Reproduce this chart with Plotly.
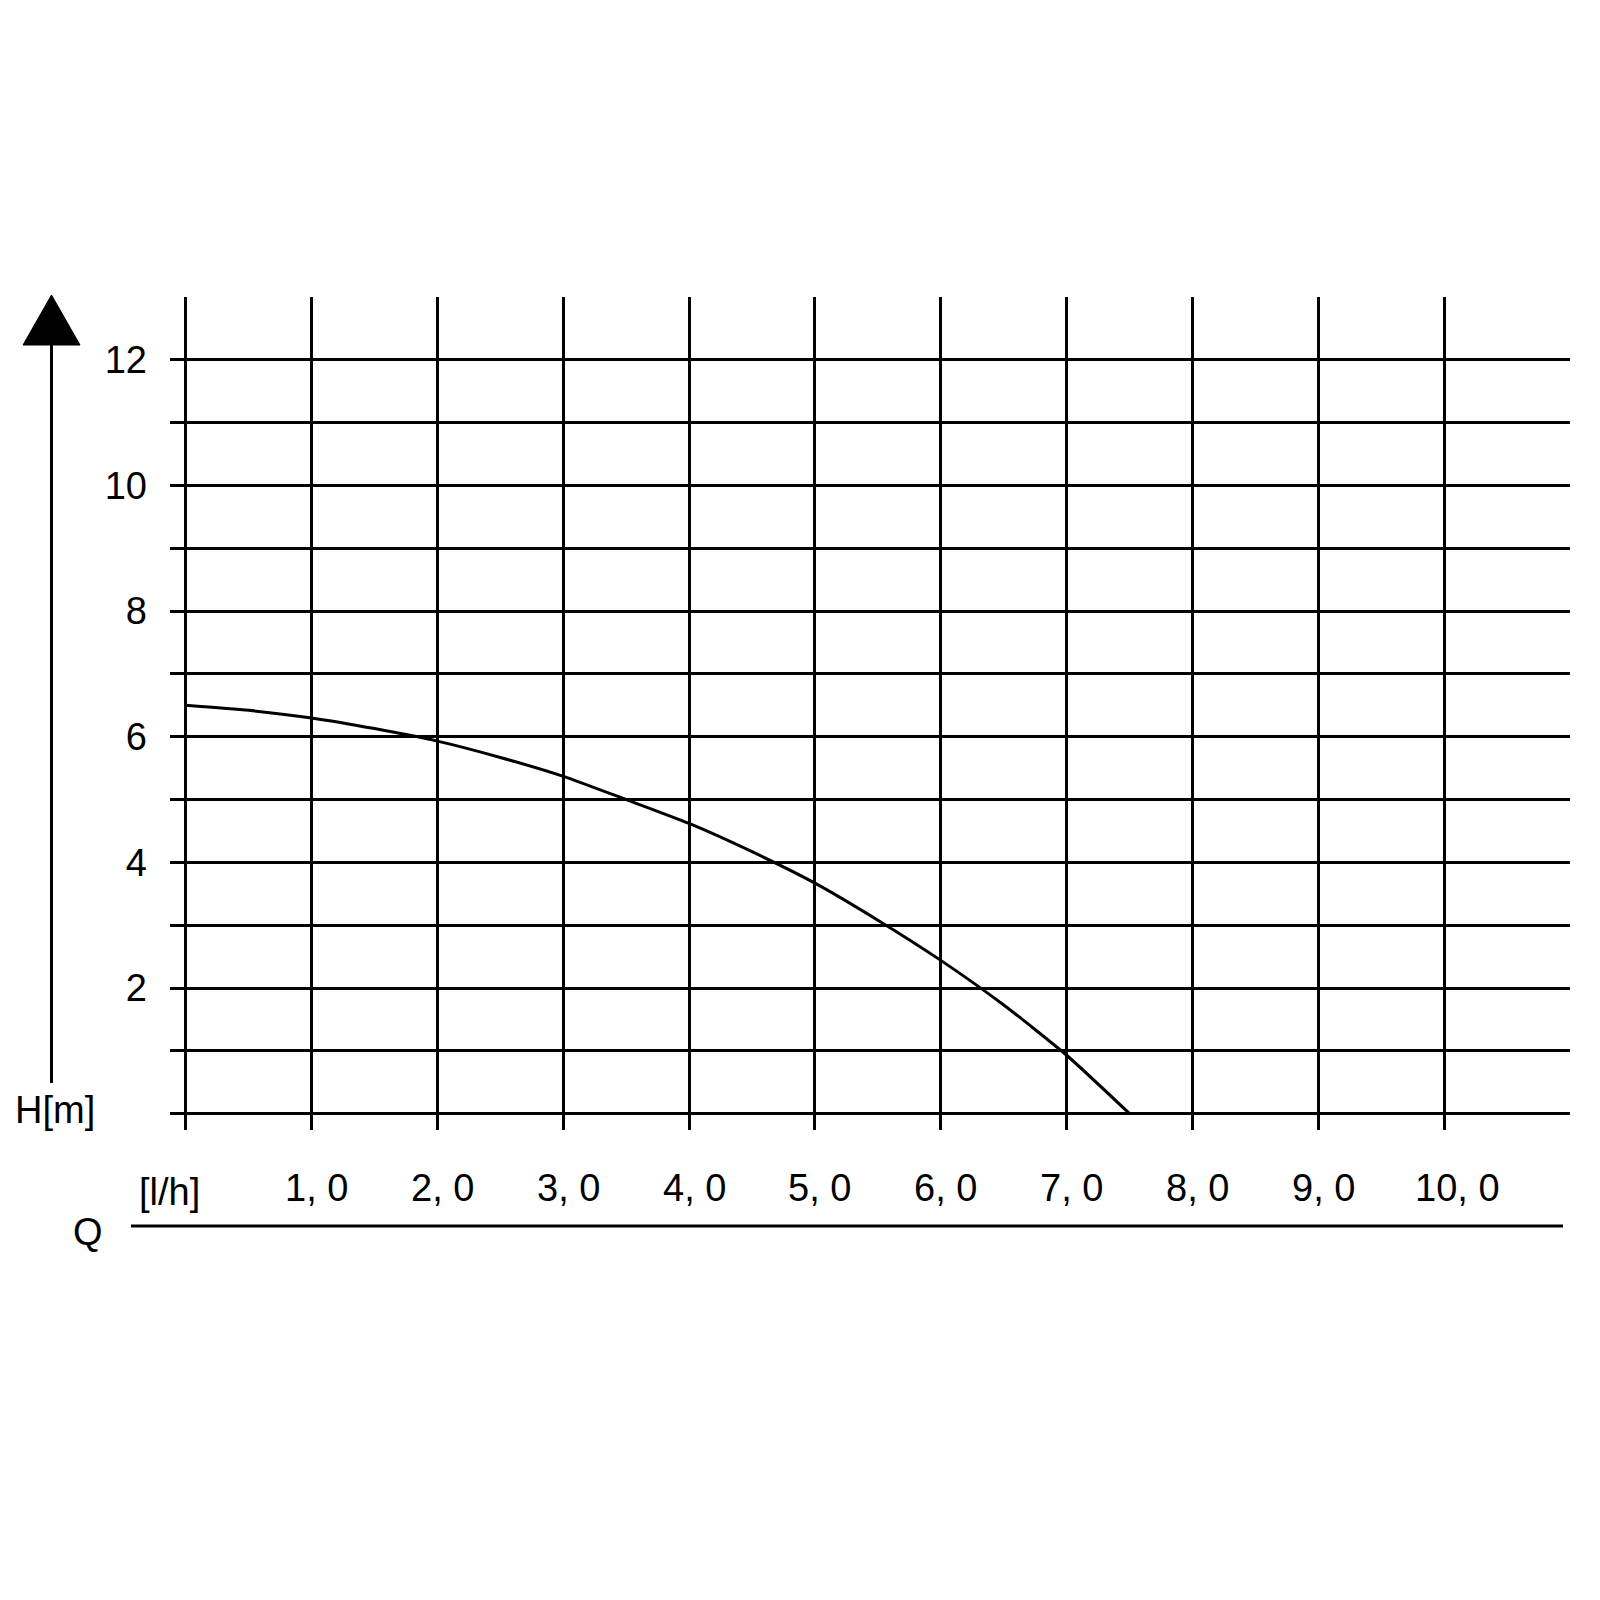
import plotly.graph_objects as go

# Data
q_values = [0, 0.5, 1.0, 1.5, 2.0, 2.5, 3.0, 3.5, 4.0, 4.5, 5.0, 5.5, 6.0, 6.5, 7.0, 7.5]
h_values = [6.5, 6.42, 6.30, 6.13, 5.93, 5.67, 5.37, 5.0, 4.62, 4.17, 3.67, 3.08, 2.44, 1.73, 0.93, 0.0]
x_ticks = [1, 2, 3, 4, 5, 6, 7, 8, 9, 10]
x_tick_labels = ["1, 0", "2, 0", "3, 0", "4, 0", "5, 0", "6, 0", "7, 0", "8, 0", "9, 0", "10, 0"]
y_grid = list(range(0, 14))
y_tick_labels = ["" if (v % 2 or v == 0) else str(v) for v in y_grid]

FONT = "Liberation Sans, Arial, sans-serif"
FS = 38
W, H = 1600, 1600
OFF = 8  # page body margin
L, T = 170 - OFF, 297 - OFF
PW, PH = 1400, 833
R, B = W - L - PW, H - T - PH


def px(x):
    return (x - OFF - L) / PW


def py(y):
    return (H - B - (y - OFF)) / PH


fig = go.Figure()
fig.add_trace(go.Scatter(x=q_values, y=h_values, mode="lines",
                         line=dict(color="black", width=3, shape="spline", smoothing=0.6),
                         hoverinfo="skip", showlegend=False))

fig.update_layout(
    width=W, height=H, autosize=False,
    margin=dict(l=L, r=R, t=T, b=B, pad=0),
    paper_bgcolor="white", plot_bgcolor="white",
    font=dict(family=FONT, size=FS, color="black"),
    showlegend=False,
)
fig.update_xaxes(range=[-0.125, 11.0], tickvals=list(range(0, 11)), ticktext=[""] * 11,
                 showgrid=True, gridcolor="black", gridwidth=3, zeroline=False,
                 showline=False, ticks="", fixedrange=True)
fig.update_yaxes(range=[-0.26, 13.0], tickvals=y_grid, ticktext=y_tick_labels,
                 showgrid=True, gridcolor="black", gridwidth=3, zeroline=False,
                 showline=False, ticks="", ticklabelstandoff=22,
                 tickfont=dict(family=FONT, size=FS, color="black"), fixedrange=True)

# x tick labels
for v, t in zip(x_ticks, x_tick_labels):
    fig.add_annotation(x=v, y=py(1188), xref="x", yref="paper", text=t, showarrow=False,
                       xanchor="center", yanchor="middle", xshift=(5 if len(t) <= 4 else 13),
                       font=dict(family=FONT, size=FS, color="black"))

# vertical H arrow
fig.add_shape(type="line", xref="paper", yref="paper", x0=px(51.5), x1=px(51.5),
              y0=py(1083), y1=py(340), line=dict(color="black", width=3))
fig.add_shape(type="path", xref="paper", yref="paper",
              path=f"M {px(23)} {py(345)} L {px(80)} {py(345)} L {px(51.5)} {py(295)} Z",
              fillcolor="black", line=dict(color="black", width=1))
# Q axis line
fig.add_shape(type="line", xref="paper", yref="paper", x0=px(131), x1=px(1563),
              y0=py(1226), y1=py(1226), line=dict(color="black", width=3))

fig.add_annotation(x=px(55), y=py(1110), xref="paper", yref="paper", text="H[m]",
                   showarrow=False, xanchor="center", yanchor="middle",
                   font=dict(family=FONT, size=FS, color="black"))
fig.add_annotation(x=px(169), y=py(1192), xref="paper", yref="paper", text="[l/h]",
                   showarrow=False, xanchor="center", yanchor="middle",
                   font=dict(family=FONT, size=FS, color="black"))
fig.add_annotation(x=px(88), y=py(1232), xref="paper", yref="paper", text="Q",
                   showarrow=False, xanchor="center", yanchor="middle",
                   font=dict(family=FONT, size=FS, color="black"))

fig.write_html("out.html")
